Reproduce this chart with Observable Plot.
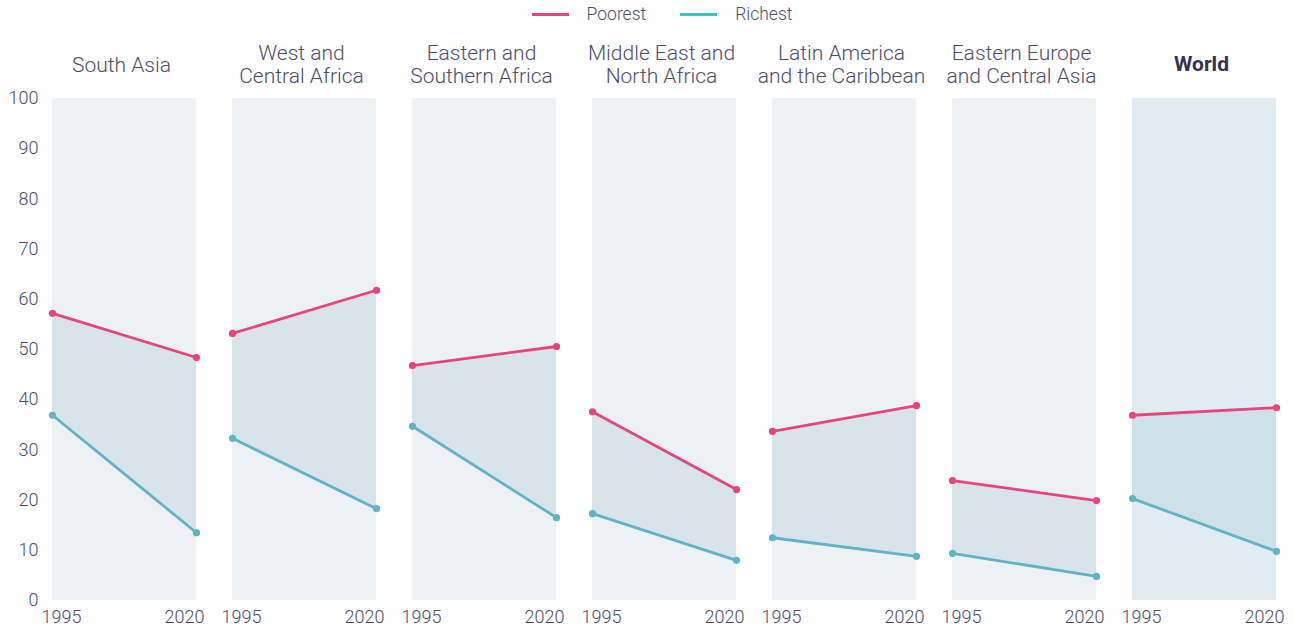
<!DOCTYPE html>
<html>
<head>
<meta charset="utf-8">
<script src="https://cdn.jsdelivr.net/npm/d3@7"></script>
<script src="https://cdn.jsdelivr.net/npm/@observablehq/plot@0.6"></script>
<style>
  html, body { margin: 0; padding: 0; background: #fff; }
  body { width: 1294px; height: 630px; overflow: hidden; font-family: Roboto, "Open Sans", sans-serif; }
  #legend { height: 28px; display: flex; justify-content: center; align-items: center; font-size: 17.5px; color: #4e4d6d; font-weight: 300; padding-left: 30px; box-sizing: border-box; }
  .item { display: flex; align-items: center; margin: 0 17px; }
  .sw { width: 37px; height: 3px; margin-right: 18px; }
</style>
</head>
<body>
<div id="legend">
  <div class="item"><span class="sw" style="background:#e8457c"></span>Poorest</div>
  <div class="item"><span class="sw" style="background:#3fc4c1"></span>Richest</div>
</div>
<div id="chart"></div>
<script>
const regions = ["South Asia", "West and\nCentral Africa", "Eastern and\nSouthern Africa", "Middle East and\nNorth Africa", "Latin America\nand the Caribbean", "Eastern Europe\nand Central Asia", "World"];
const years = [1995, 2020];
const poorest1995 = [57.2, 53.2, 46.8, 37.6, 33.7, 23.9, 36.9];
const poorest2020 = [48.4, 61.8, 50.6, 22.1, 38.8, 19.9, 38.4];
const richest1995 = [36.9, 32.3, 34.7, 17.3, 12.5, 9.4, 20.3];
const richest2020 = [13.5, 18.3, 16.5, 8.0, 8.8, 4.8, 9.8];
const yTicks = [0, 10, 20, 30, 40, 50, 60, 70, 80, 90, 100];

const rows = [];
regions.forEach((r, i) => {
  rows.push({region: r, year: years[0], poorest: poorest1995[i], richest: richest1995[i]});
  rows.push({region: r, year: years[1], poorest: poorest2020[i], richest: richest2020[i]});
});
const textColor = "#4e4d6d";
const pink = "#e8457c";
const teal = "#5fb4c6";
const isWorld = d => d === "World";

const chart = Plot.plot({
  width: 1294,
  height: 602,
  marginLeft: 51,
  marginRight: 18,
  marginTop: 70,
  marginBottom: 30,
  style: {fontFamily: "Roboto, 'Open Sans', sans-serif", color: textColor, background: "transparent"},
  fx: {domain: regions, paddingInner: 0.2, paddingOuter: 0, axis: null, label: null},
  x: {domain: [1995, 2020], axis: null, label: null},
  y: {domain: [0, 100], axis: null, label: null},
  marks: [
    Plot.rect(regions.filter(d => !isWorld(d)), {fx: d => d, x1: () => 1995, x2: () => 2020, y1: () => 0, y2: () => 100, fill: "#edf1f4"}),
    Plot.rect(regions.filter(isWorld), {fx: d => d, x1: () => 1995, x2: () => 2020, y1: () => 0, y2: () => 100, fill: "#e1ecf2"}),
    Plot.areaY(rows.filter(d => !isWorld(d.region)), {fx: "region", x: "year", y1: "richest", y2: "poorest", fill: "#d9e4ea"}),
    Plot.areaY(rows.filter(d => isWorld(d.region)), {fx: "region", x: "year", y1: "richest", y2: "poorest", fill: "#cfe1e8"}),
    Plot.line(rows, {fx: "region", x: "year", y: "poorest", stroke: pink, strokeWidth: 2.8}),
    Plot.line(rows, {fx: "region", x: "year", y: "richest", stroke: teal, strokeWidth: 2.8}),
    Plot.dot(rows, {fx: "region", x: "year", y: "poorest", fill: pink, r: 3.6}),
    Plot.dot(rows, {fx: "region", x: "year", y: "richest", fill: teal, r: 3.6}),
    Plot.text(regions.filter(d => !isWorld(d)), {fx: d => d, text: d => d, frameAnchor: "top", dx: -3, dy: -34, lineAnchor: "middle", lineHeight: 1.1, fontSize: 21, fill: textColor, fontWeight: 300}),
    Plot.text(regions.filter(isWorld), {fx: d => d, text: d => d, frameAnchor: "top", dx: -3, dy: -34, lineAnchor: "middle", fontSize: 21, fill: "#35334f", fontWeight: "bold"}),
    Plot.axisY(yTicks, {anchor: "left", tickSize: 0, tickPadding: 14, fontSize: 18, fontWeight: 300, fill: textColor, label: null}),
    Plot.axisX([1995], {tickSize: 0, tickPadding: 10, dx: 9, fontSize: 18, fontWeight: 300, fill: textColor, tickFormat: "d", label: null}),
    Plot.axisX([2020], {tickSize: 0, tickPadding: 10, dx: -12, fontSize: 18, fontWeight: 300, fill: textColor, tickFormat: "d", label: null})
  ]
});
document.getElementById("chart").appendChild(chart);
</script>
</body>
</html>
